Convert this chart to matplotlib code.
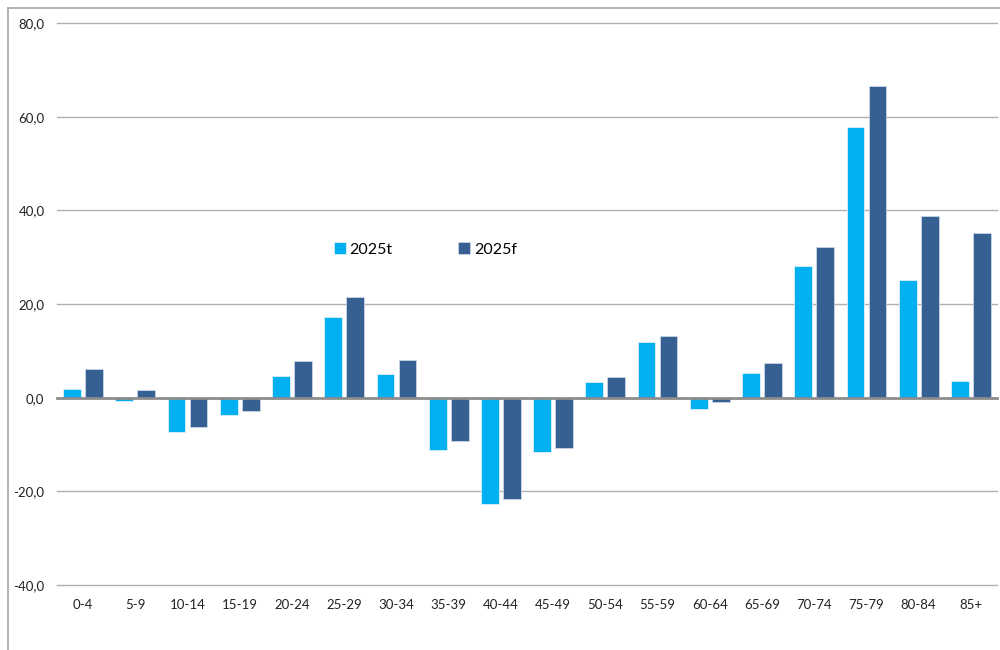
import numpy as np
import matplotlib
matplotlib.use("Agg")
import matplotlib.pyplot as plt
from matplotlib.lines import Line2D

plt.rcParams['font.family'] = ['Lato', 'DejaVu Sans']

groups = ['0-4', '5-9', '10-14', '15-19', '20-24', '25-29', '30-34', '35-39',
          '40-44', '45-49', '50-54', '55-59', '60-64', '65-69', '70-74',
          '75-79', '80-84', '85+']
v2025t = [1.9, -0.8, -7.4, -3.7, 4.7, 17.3, 5.1, -11.1, -22.8, -11.7,
          3.4, 11.9, -2.4, 5.3, 28.2, 57.8, 25.2, 3.5]
v2025f = [6.2, 1.7, -6.3, -2.9, 7.9, 21.5, 8.1, -9.3, -21.6, -10.8,
          4.5, 13.1, -1.0, 7.4, 32.2, 66.5, 38.8, 35.1]
yticks = [-40, -20, 0, 20, 40, 60, 80]

col_t = '#00B0F0'
col_f = '#366092'

fig = plt.figure(figsize=(10, 6.5), dpi=100)
ax = fig.add_axes([0.057, 0.1, 0.94, 0.8646])

x = np.arange(len(groups))
w = 0.34
gap = 0.04
ax.bar(x - w / 2 - gap, v2025t, width=w, color=col_t, edgecolor='#DDEFFA',
       linewidth=0.6, label='2025t', zorder=3)
ax.bar(x + w / 2 + gap, v2025f, width=w, color=col_f, edgecolor='#C9D6E6',
       linewidth=0.6, label='2025f', zorder=3)

ax.set_xlim(-0.5, len(groups) - 0.5)
ax.set_ylim(-40, 80)
ax.set_yticks(yticks)
ax.set_yticklabels([f'{t:.1f}'.replace('.', ',') for t in yticks])
ax.set_xticks(x)
ax.set_xticklabels(groups)

for t in yticks:
    if t == 0:
        ax.axhline(t, color='#8C8C8C', linewidth=2.0, zorder=4, clip_on=False)
    else:
        ax.axhline(t, color='#AFAFAF', linewidth=1.0, zorder=1, clip_on=False)

for s in ax.spines.values():
    s.set_visible(False)
ax.tick_params(axis='both', length=0, labelsize=9.5, colors='#222222')
ax.tick_params(axis='x', pad=10)
ax.tick_params(axis='y', pad=9)

leg = ax.legend(loc='center', bbox_to_anchor=(0.392, 0.597), ncol=2,
                frameon=False, fontsize=11.5, handlelength=0.75,
                handleheight=0.75, handletextpad=0.25, columnspacing=4.1)

# outer frame of the chart area
fig.add_artist(Line2D([0.008, 0.008], [0, 0.988], color='#A6A6A6',
                      linewidth=1.2, transform=fig.transFigure))
fig.add_artist(Line2D([0.008, 1.0], [0.988, 0.988], color='#A6A6A6',
                      linewidth=1.2, transform=fig.transFigure))

fig.savefig('out.png', dpi=100)
